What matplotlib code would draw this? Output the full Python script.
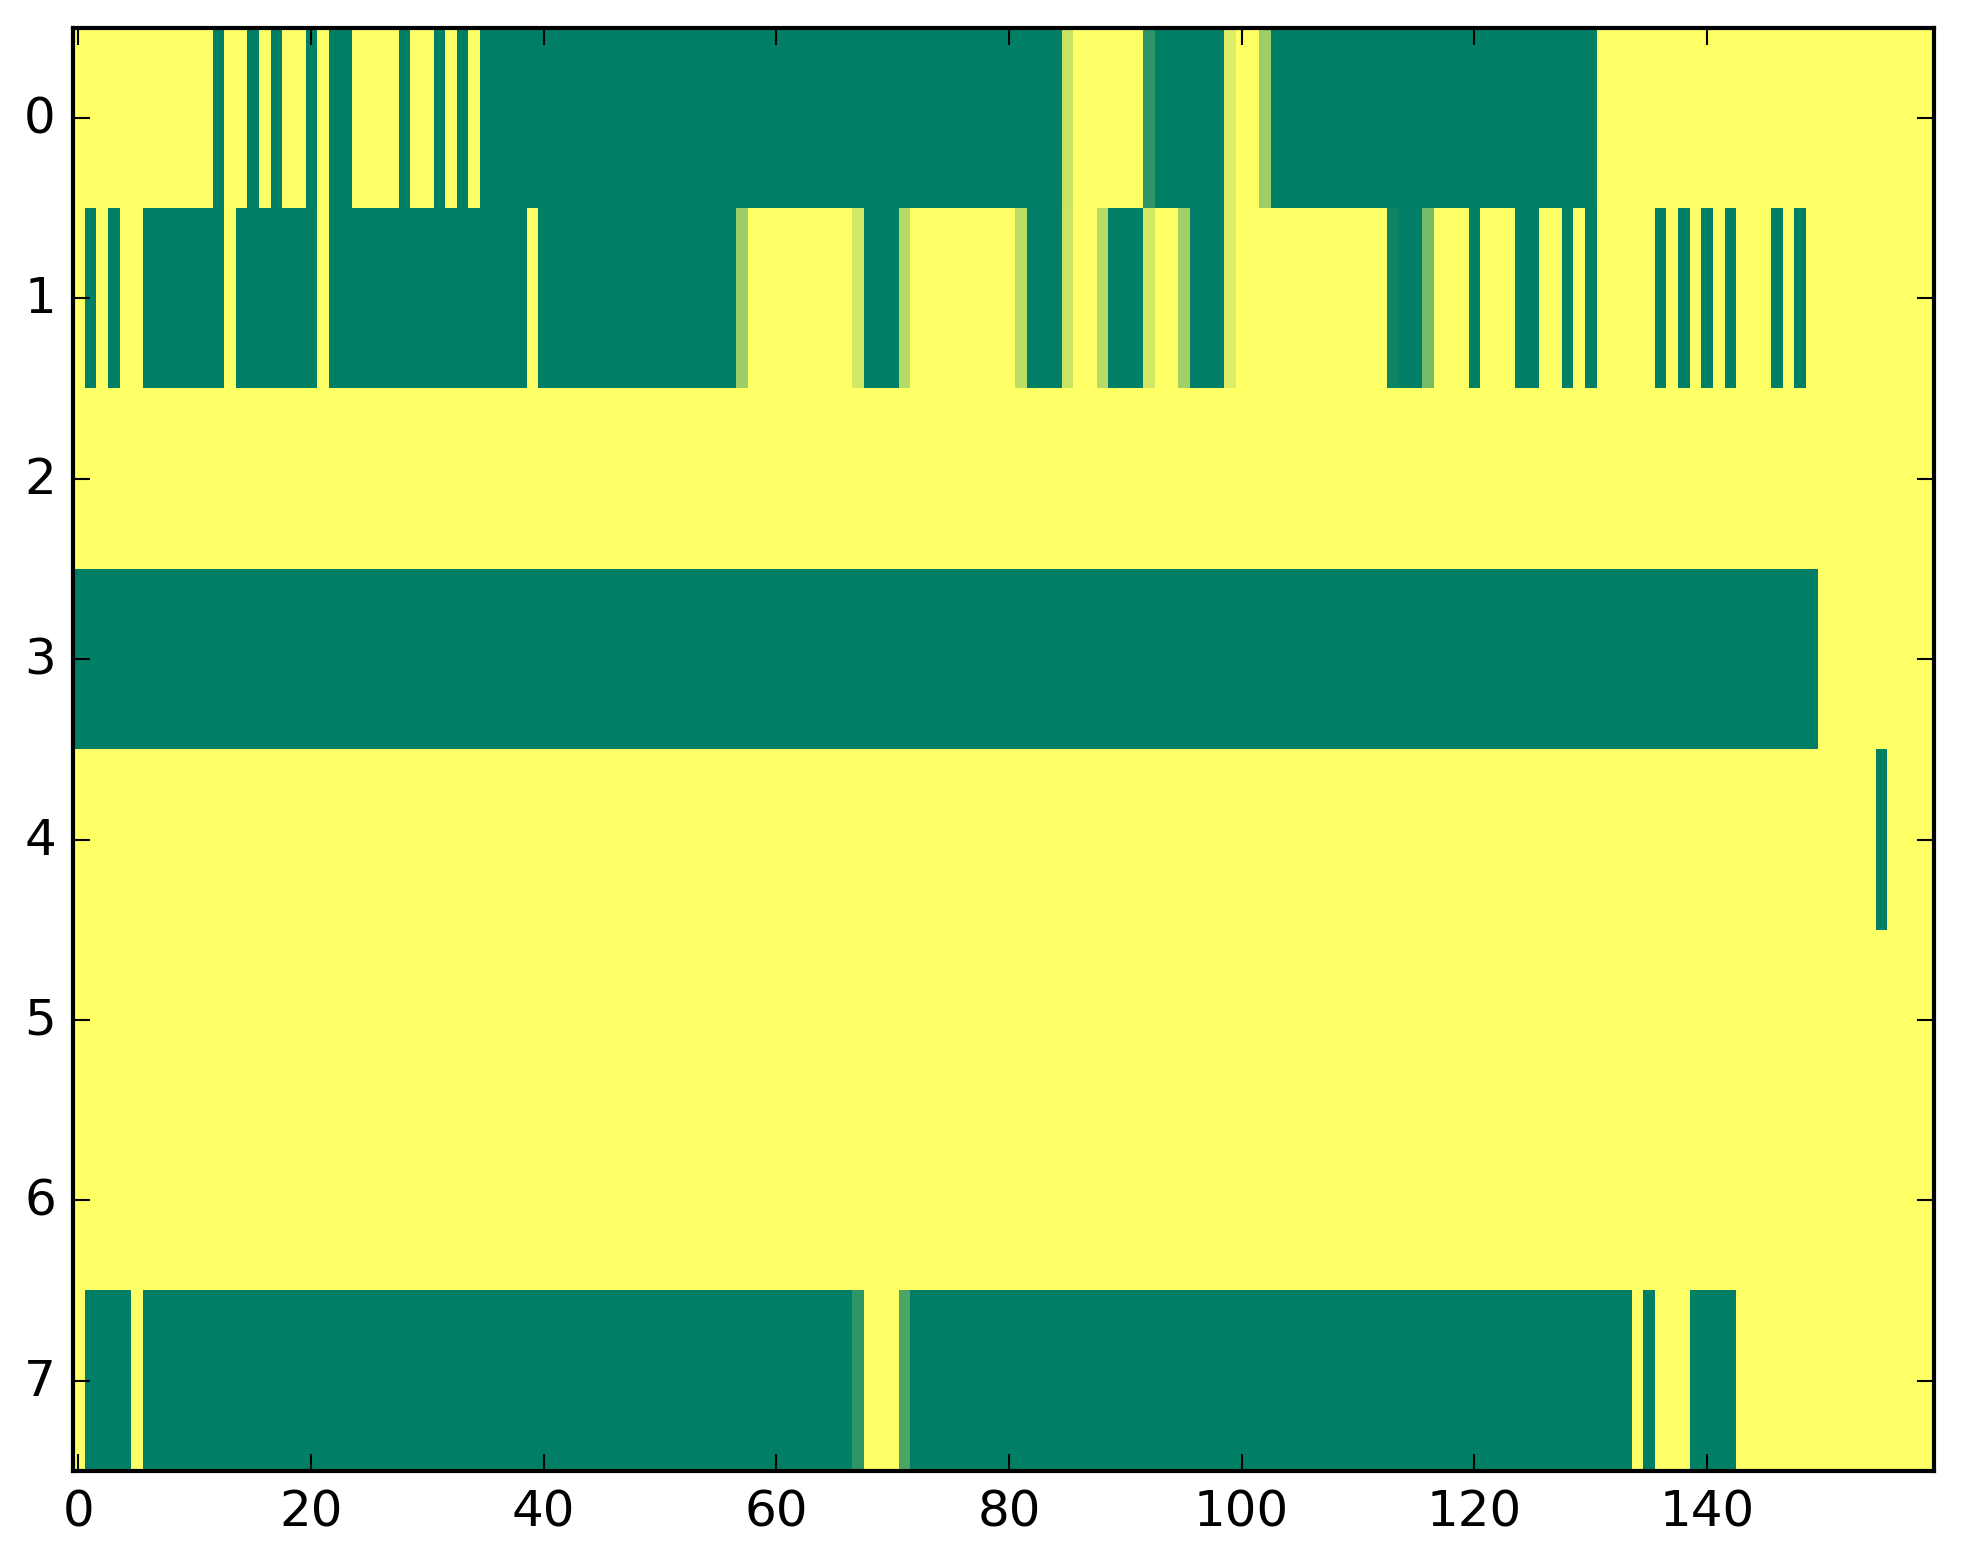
import numpy as np
import matplotlib
matplotlib.use("Agg")
import matplotlib.pyplot as plt

# each row as (value, run length), read left to right, 160 columns
row0_runs = [(1, 12), (0, 1), (1, 2), (0, 1), (1, 1), (0, 1), (1, 2), (0, 1), (1, 1),
             (0, 2), (1, 4), (0, 1), (1, 2), (0, 1), (1, 1), (0, 1), (1, 1),
             (0, 50), (0.78, 1), (1, 6), (0.18, 1), (0, 6), (0.86, 1), (1, 2),
             (0.61, 1), (0, 28), (1, 29)]
row1_runs = [(1, 1), (0, 1), (1, 1), (0, 1), (1, 2), (0, 7), (1, 1), (0, 7), (1, 1),
             (0, 17), (1, 1), (0, 17), (0.61, 1), (1, 9), (0.83, 1), (0, 3),
             (0.71, 1), (1, 9), (0.74, 1), (0, 3), (0.80, 1), (1, 2), (0.71, 1),
             (0, 3), (0.83, 1), (1, 2), (0.63, 1), (0, 3), (0.86, 1), (1, 13),
             (0.05, 1), (0, 2), (0.47, 1), (1, 3), (0, 1), (1, 3), (0, 2), (1, 2),
             (0, 1), (1, 1), (0, 1), (1, 5), (0, 1), (1, 1), (0, 1), (1, 1),
             (0, 1), (1, 1), (0, 1), (1, 3), (0, 1), (1, 1), (0, 1), (1, 11)]
row2_runs = [(1, 160)]
row3_runs = [(0, 150), (1, 10)]
row4_runs = [(1, 155), (0, 1), (1, 4)]
row5_runs = [(1, 160)]
row6_runs = [(1, 160)]
row7_runs = [(1, 1), (0, 4), (1, 1), (0, 61), (0.18, 1), (1, 3), (0.30, 1), (0, 62),
             (1, 1), (0, 1), (1, 3), (0, 4), (1, 17)]

all_runs = [row0_runs, row1_runs, row2_runs, row3_runs,
            row4_runs, row5_runs, row6_runs, row7_runs]


def expand(runs):
    vals = [v for v, n in runs]
    counts = [n for v, n in runs]
    return np.repeat(vals, counts)


grid = np.vstack([expand(r) for r in all_runs])

plt.style.use("classic")
fig = plt.figure(figsize=(1963 / 300, 1564 / 300), dpi=300)
fig.subplots_adjust(left=0.037, right=0.985, bottom=0.059, top=0.9815)
ax = fig.add_subplot(111)

ax.imshow(grid, cmap="summer", vmin=0, vmax=1, aspect="auto",
          interpolation="nearest")
ax.set_yticks(range(grid.shape[0]))
ax.set_xticks(range(0, grid.shape[1], 20))

fig.savefig("out.png", dpi=300)
